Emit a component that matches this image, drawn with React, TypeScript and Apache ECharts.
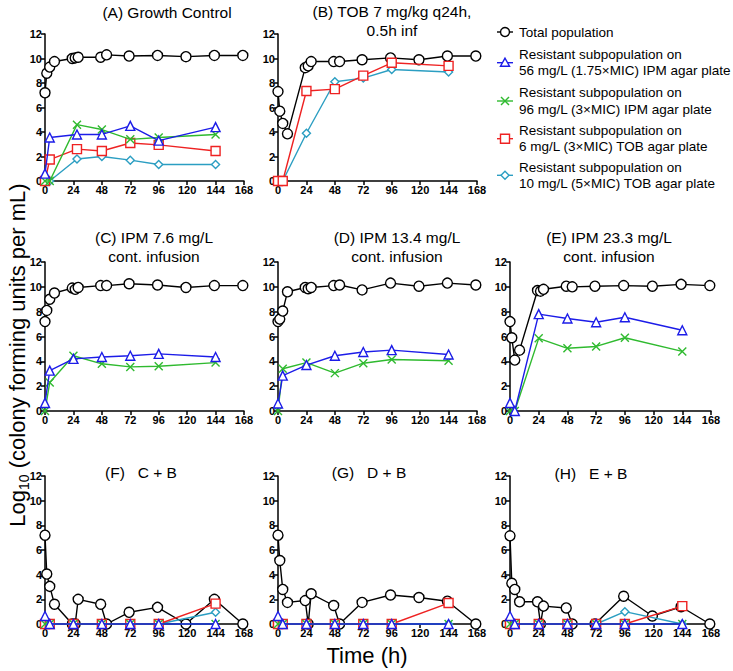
import React, { useEffect, useRef } from 'react';
import * as echarts from 'echarts';

// ---- sampling times (h) ----
const tTotal = [0, 1.5, 4, 8, 23, 25.5, 28, 47, 52, 71, 95, 119, 143, 167];
const tSub = [0, 4, 24, 48, 72, 96, 144];
const tSubA = [0, 4, 27, 48, 72, 96, 144];

// ---- tick values ----
const xTicks = [0, 24, 48, 72, 96, 120, 144, 168];
const yTicks = [0, 2, 4, 6, 8, 10, 12];

// ---- Panel A: Growth control ----
const totalA = [7.2, 8.8, 9.3, 9.75, 10.0, 10.05, 10.1, 10.1, 10.3, 10.2, 10.25, 10.15, 10.25, 10.25];
const ipm56A = [0.6, 3.55, 3.8, 3.8, 4.5, 3.3, 4.4];
const ipm96A = [0, 0, 4.6, 4.2, 3.4, 3.55, 3.8];
const tob6A = [0, 1.75, 2.6, 2.45, 3.1, 2.95, 2.45];
const tob10A = [0, 0, 1.8, 2.0, 1.7, 1.35, 1.35];

// ---- Panel B: TOB ----
const totalB = [7.3, 5.7, 4.7, 3.85, 9.25, 9.4, 9.75, 9.75, 9.75, 9.9, 10.05, 9.9, 10.2, 10.2];
const tob6B = [0, 0, 7.35, 7.5, 8.6, 9.65, 9.4];
const tob10B = [0, 0, 3.9, 8.1, 8.4, 9.1, 8.9];

// ---- Panel C: IPM 7.6 ----
const totalC = [7.2, 8.1, 9.0, 9.5, 9.9, 9.8, 9.95, 10.1, 10.1, 10.25, 10.15, 9.95, 10.1, 10.1];
const ipm56C = [0.65, 3.25, 4.2, 4.35, 4.45, 4.6, 4.35];
const ipm96C = [0, 2.3, 4.45, 3.8, 3.55, 3.6, 3.9];

// ---- Panel D: IPM 13.4 ----
const totalD = [7.2, 7.4, 8.05, 9.6, 9.95, 9.85, 9.95, 10.1, 10.15, 9.75, 10.3, 10.05, 10.3, 10.15];
const ipm56D = [0.6, 2.85, 3.7, 4.45, 4.75, 4.9, 4.55];
const ipm96D = [0, 3.4, 3.9, 3.05, 3.85, 4.15, 4.05];

// ---- Panel E: IPM 23.3 ----
const totalE = [7.2, 5.9, 4.1, 4.9, 9.7, 9.65, 9.8, 10.05, 10.0, 10.05, 10.1, 10.05, 10.2, 10.1];
const ipm56E = [0.65, 0, 7.8, 7.45, 7.15, 7.55, 6.5];
const ipm96E = [0, 0, 5.85, 5.05, 5.2, 5.9, 4.8];

// ---- Panel F: C + B ----
const totalF = [7.2, 4.05, 3.05, 1.6, 0, 0, 2.0, 1.6, 0, 0.95, 1.35, 0, 2.0, 0];
const ipm56F = [0.65, 0, 0, 0, 0, 0, 0];
const ipm96F = [0, 0, 0, 0, 0, 0, 0];
const tob6F = [0, 0, 0, 0, 0, 0, 1.65];
const tob10F = [0, 0, 0, 0, 0, 0, 0.95];

// ---- Panel G: D + B ----
const totalG = [7.2, 5.15, 2.8, 1.75, 1.9, 0, 2.45, 1.5, 0, 1.75, 2.35, 2.15, 1.85, 0];
const ipm56G = [0.65, 0, 0, 0, 0, 0, 0];
const ipm96G = [0, 0, 0, 0, 0, 0, 0];
const tob6G = [0, 0, 0, 0, 0, 0, 1.7];
const tob10G = [0, 0, 0, 0, 0, 0, 0];

// ---- Panel H: E + B ----
const totalH = [7.15, 3.3, 2.8, 1.8, 1.8, 0, 1.45, 1.3, 0, 0, 2.25, 0.65, 1.4, 0];
const ipm56H = [0.65, 0, 0, 0, 0, 0, 0];
const ipm96H = [0, 0, 0, 0, 0, 0, 0];
const tob6H = [0, 0, 0, 0, 0, 0, 1.45];
const tob10H = [0, 0, 0, 0, 0, 1.0, 0];

// ---- text ----
const legendNames = [
  'Total population',
  'Resistant subpopulation on\n56 mg/L (1.75×MIC) IPM agar plate',
  'Resistant subpopulation on\n96 mg/L (3×MIC) IPM agar plate',
  'Resistant subpopulation on\n6 mg/L (3×MIC) TOB agar plate',
  'Resistant subpopulation on\n10 mg/L (5×MIC) TOB agar plate',
];

const COL = {
  total: '#000000',
  ipm56: '#1c1ce8',
  ipm96: '#2fba2f',
  tob6: '#ee2222',
  tob10: '#2b9ec2',
};

const FONT = "'Liberation Sans', Arial, Helvetica, sans-serif";
const TICKFONT = "'Liberation Sans Narrow', 'Liberation Sans', Arial, sans-serif";

type Key = 'total' | 'ipm56' | 'ipm96' | 'tob6' | 'tob10';

const SYM: Record<Key, { symbol: string; size: number }> = {
  total: { symbol: 'circle', size: 10 },
  ipm56: { symbol: 'triangle', size: 9 },
  ipm96: { symbol: 'path://M0,0L10,10M10,0L0,10', size: 8 },
  tob6: { symbol: 'rect', size: 9 },
  tob10: { symbol: 'diamond', size: 8 },
};

interface Panel {
  grid: { left: number; top: number; width: number; height: number };
  title: string;
  tx: number;
  ty: number;
  sub: number[];
  data: Partial<Record<Key, number[]>>;
}

const panels: Panel[] = [
  { grid: { left: 45, top: 34, width: 199, height: 147 }, title: '(A) Growth Control', tx: 167, ty: 12, sub: tSubA,
    data: { total: totalA, tob10: tob10A, tob6: tob6A, ipm96: ipm96A, ipm56: ipm56A } },
  { grid: { left: 278, top: 34, width: 199, height: 147 }, title: '(B) TOB 7 mg/kg q24h,\n0.5h inf', tx: 392, ty: 21, sub: tSub,
    data: { total: totalB, tob10: tob10B, tob6: tob6B } },
  { grid: { left: 45, top: 262, width: 199, height: 149 }, title: '(C) IPM 7.6 mg/L\ncont. infusion', tx: 154, ty: 247, sub: tSub,
    data: { total: totalC, ipm96: ipm96C, ipm56: ipm56C } },
  { grid: { left: 278, top: 262, width: 199, height: 149 }, title: '(D) IPM 13.4 mg/L\ncont. infusion', tx: 397, ty: 247, sub: tSub,
    data: { total: totalD, ipm96: ipm96D, ipm56: ipm56D } },
  { grid: { left: 510, top: 262, width: 201, height: 149 }, title: '(E) IPM 23.3 mg/L\ncont. infusion', tx: 609, ty: 247, sub: tSub,
    data: { total: totalE, ipm96: ipm96E, ipm56: ipm56E } },
  { grid: { left: 45, top: 476, width: 199, height: 148 }, title: '(F)   C + B', tx: 141, ty: 472, sub: tSub,
    data: { total: totalF, tob10: tob10F, tob6: tob6F, ipm96: ipm96F, ipm56: ipm56F } },
  { grid: { left: 278, top: 476, width: 199, height: 148 }, title: '(G)   D + B', tx: 369, ty: 472, sub: tSub,
    data: { total: totalG, tob10: tob10G, tob6: tob6G, ipm96: ipm96G, ipm56: ipm56G } },
  { grid: { left: 510, top: 476, width: 201, height: 148 }, title: '(H)   E + B', tx: 591, ty: 473, sub: tSub,
    data: { total: totalH, tob10: tob10H, tob6: tob6H, ipm96: ipm96H, ipm56: ipm56H } },
];

const zip = (t: number[], v: number[]) => v.map((y, i) => [t[i], y]);

function axisCommon() {
  return {
    axisLine: { show: true, onZero: false, lineStyle: { color: '#000', width: 1.5 } },
    axisTick: { show: true, inside: false, length: 4, lineStyle: { color: '#000', width: 1.5 } },
    splitLine: { show: false },
    axisLabel: { color: '#000', fontWeight: 'bold' as const, fontSize: 11, fontFamily: TICKFONT, margin: 3 },
  };
}

function buildOption() {
  const grid: any[] = [];
  const xAxis: any[] = [];
  const yAxis: any[] = [];
  const series: any[] = [];
  const graphic: any[] = [];

  panels.forEach((p, i) => {
    grid.push({ ...p.grid, containLabel: false });
    xAxis.push({ type: 'value', gridIndex: i, min: xTicks[0], max: xTicks[xTicks.length - 1], interval: 24, ...axisCommon() });
    yAxis.push({ type: 'value', gridIndex: i, min: yTicks[0], max: yTicks[yTicks.length - 1], interval: 2, ...axisCommon() });
    (Object.keys(p.data) as Key[]).forEach((k, j) => {
      const vals = p.data[k]!;
      const t = k === 'total' ? tTotal : p.sub;
      series.push({
        type: 'line',
        name: k,
        xAxisIndex: i,
        yAxisIndex: i,
        data: zip(t, vals),
        symbol: SYM[k].symbol,
        symbolSize: SYM[k].size,
        showAllSymbol: true,
        clip: false,
        z: 2 + j,
        lineStyle: { color: COL[k], width: 1.4 },
        itemStyle: { color: '#fff', borderColor: COL[k], borderWidth: 1.4 },
        emphasis: { disabled: true },
        silent: true,
      });
    });
    graphic.push({
      type: 'text',
      x: p.tx,
      y: p.ty,
      style: { text: p.title, fill: '#000', fontSize: 15.5, fontFamily: FONT, align: 'center', verticalAlign: 'middle', lineHeight: 19 },
    });
  });

  // legend (drawn)
  const lx = 497, lw = 16, cx = lx + lw / 2, tx = 519;
  const ys = [32, 62.7, 101, 138.7, 175.3];
  const keys: Key[] = ['total', 'ipm56', 'ipm96', 'tob6', 'tob10'];
  keys.forEach((k, i) => {
    const y = ys[i];
    const c = COL[k];
    graphic.push({ type: 'line', shape: { x1: lx, y1: y, x2: lx + lw, y2: y }, style: { stroke: c, lineWidth: 1.4 } });
    const st = { fill: '#fff', stroke: c, lineWidth: 1.4 };
    if (k === 'total') graphic.push({ type: 'circle', shape: { cx, cy: y, r: 4.5 }, style: st });
    if (k === 'ipm56') graphic.push({ type: 'polygon', shape: { points: [[cx, y - 4.5], [cx - 4.5, y + 3.5], [cx + 4.5, y + 3.5]] }, style: st });
    if (k === 'ipm96') {
      graphic.push({ type: 'line', shape: { x1: cx - 4, y1: y - 4, x2: cx + 4, y2: y + 4 }, style: { stroke: c, lineWidth: 1.4 } });
      graphic.push({ type: 'line', shape: { x1: cx + 4, y1: y - 4, x2: cx - 4, y2: y + 4 }, style: { stroke: c, lineWidth: 1.4 } });
    }
    if (k === 'tob6') graphic.push({ type: 'rect', shape: { x: cx - 4.5, y: y - 4.5, width: 9, height: 9 }, style: st });
    if (k === 'tob10') graphic.push({ type: 'polygon', shape: { points: [[cx, y - 4], [cx + 4, y], [cx, y + 4], [cx - 4, y]] }, style: st });
    graphic.push({
      type: 'text',
      x: tx,
      y,
      style: { text: legendNames[i], fill: '#000', fontSize: 13.5, fontFamily: FONT, align: 'left', verticalAlign: 'middle', lineHeight: 16.5 },
    });
  });

  // axis titles
  graphic.push({
    type: 'text',
    x: 17,
    y: 355,
    rotation: Math.PI / 2,
    style: {
      text: '{a|Log}{b|10}{a| (colony forming units per mL)}',
      align: 'center',
      verticalAlign: 'middle',
      fill: '#000',
      rich: {
        a: { fontSize: 22, fontFamily: FONT, fill: '#000', lineHeight: 28, verticalAlign: 'middle' },
        b: { fontSize: 14, fontFamily: FONT, fill: '#000', lineHeight: 14, verticalAlign: 'bottom' },
      },
    },
  });
  graphic.push({
    type: 'text',
    x: 367,
    y: 655,
    style: { text: 'Time (h)', fill: '#000', fontSize: 22, fontFamily: FONT, align: 'center', verticalAlign: 'middle' },
  });

  return {
    animation: false,
    backgroundColor: '#fff',
    grid,
    xAxis,
    yAxis,
    series,
    graphic,
  };
}

export default function App() {
  const ref = useRef<HTMLDivElement>(null);
  useEffect(() => {
    document.body.style.margin = '0';
    if (!ref.current) return;
    const chart = echarts.init(ref.current, undefined, { renderer: 'svg' });
    chart.setOption(buildOption());
    return () => chart.dispose();
  }, []);
  return <div ref={ref} style={{ width: 733, height: 671, position: 'absolute', left: 0, top: 0 }} />;
}
